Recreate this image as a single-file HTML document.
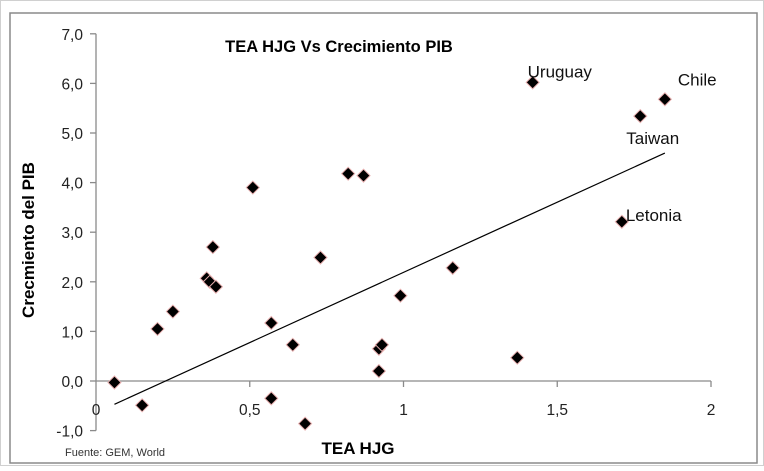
<!DOCTYPE html>
<html><head><meta charset="utf-8">
<style>
html,body{margin:0;padding:0;background:#fff;}
svg text{font-family:"Liberation Sans",sans-serif;}
</style></head>
<body>
<svg width="764" height="466" viewBox="0 0 764 466" xmlns="http://www.w3.org/2000/svg">
<rect x="0.5" y="0.5" width="763" height="465" fill="#fff" stroke="#d0d0d0"/>
<rect x="10" y="13" width="747" height="450" fill="#fff" stroke="#8a8a8a" stroke-width="1.5"/>
<g id="axes"></g>
<g id="trend"></g>
<g id="pts"></g>
<text x="339" y="52" text-anchor="middle" font-size="16.5" font-weight="bold">TEA HJG Vs Crecimiento PIB</text>
<text transform="translate(34,240) rotate(-90)" text-anchor="middle" font-size="17" font-weight="bold">Crecmiento del PIB</text>
<text x="358" y="454" text-anchor="middle" font-size="17" font-weight="bold">TEA HJG</text>
<text x="65" y="456" font-size="11" fill="#333">Fuente: GEM, World</text>
</svg>
<script>
const xVals=[0.06,0.15,0.20,0.25,0.36,0.37,0.39,0.38,0.51,0.57,0.57,0.64,0.68,0.73,0.82,0.87,0.92,0.93,0.92,0.99,1.16,1.37,1.42,1.71,1.77,1.85];
const yVals=[-0.03,-0.49,1.05,1.40,2.07,2.00,1.90,2.70,3.90,1.17,-0.35,0.73,-0.86,2.49,4.18,4.14,0.65,0.73,0.20,1.72,2.28,0.47,6.02,3.21,5.34,5.68];
const pointLabels=["","","","","","","","","","","","","","","","","","","","","","","Uruguay","Letonia","Taiwan","Chile"];
const yTicks=[-1,0,1,2,3,4,5,6,7];
const yTickLabels=["-1,0","0,0","1,0","2,0","3,0","4,0","5,0","6,0","7,0"];
const xTicks=[0,0.5,1,1.5,2];
const xTickLabels=["0","0,5","1","1,5","2"];
const trendX=[0.06,1.85];
const trendSlope=2.83, trendIntercept=-0.64;

const NS="http://www.w3.org/2000/svg";
const sx=v=>96+v*307.5;
const sy=v=>381-v*49.6;
function mk(tag,attrs,parent){const e=document.createElementNS(NS,tag);for(const k in attrs)e.setAttribute(k,attrs[k]);parent.appendChild(e);return e;}
const axes=document.getElementById('axes');
let l=mk('line',{x1:sx(0),y1:sy(7),x2:sx(0),y2:sy(-1),stroke:'#8a8a8a','stroke-width':1.3},axes);


l=mk('line',{x1:sx(0),y1:sy(0),x2:sx(2),y2:sy(0),stroke:'#8a8a8a','stroke-width':1.3},axes);


yTicks.forEach((v,i)=>{
  const t=mk('line',{x1:sx(0)-6,y1:sy(v),x2:sx(0),y2:sy(v),stroke:'#8a8a8a','stroke-width':1.3},axes);
  
  
  const tx=mk('text',{x:sx(0)-13,y:sy(v)+6,'text-anchor':'end','font-size':15.5,fill:'#222'},axes);
  tx.textContent=yTickLabels[i];
  
  
});
xTicks.forEach((v,i)=>{
  if(v>0){const t=mk('line',{x1:sx(v),y1:sy(0),x2:sx(v),y2:sy(0)+6,stroke:'#8a8a8a','stroke-width':1.3},axes);
  
  }
  const tx=mk('text',{x:sx(v),y:sy(0)+34,'text-anchor':'middle','font-size':15.5,fill:'#222'},axes);
  tx.textContent=xTickLabels[i];
  
  
});
const tr=mk('line',{x1:sx(trendX[0]),y1:sy(trendSlope*trendX[0]+trendIntercept),x2:sx(trendX[1]),y2:sy(trendSlope*trendX[1]+trendIntercept),stroke:'#000','stroke-width':1.2},document.getElementById('trend'));


const pts=document.getElementById('pts');
xVals.forEach((x,i)=>{
  const cx=sx(x),cy=sy(yVals[i]),r=6.5;
  const p=mk('polygon',{points:`${cx},${cy-r} ${cx+r},${cy} ${cx},${cy+r} ${cx-r},${cy}`,fill:'#000',stroke:'#e8b0b0','stroke-width':1},pts);
  
  
  if(pointLabels[i]){
    const t=mk('text',{x:cx-5,y:cy-5,'font-size':17,fill:'#111'},pts);
    if(pointLabels[i]==='Chile'){t.setAttribute('x',cx+13);t.setAttribute('y',cy-14);}
    if(pointLabels[i]==='Taiwan'){t.setAttribute('x',cx-14);t.setAttribute('y',cy+28);}
    if(pointLabels[i]==='Letonia'){t.setAttribute('x',cx+4);t.setAttribute('y',cy-1);}
    t.textContent=pointLabels[i];
    
    
  }
});
</script>
</body></html>
